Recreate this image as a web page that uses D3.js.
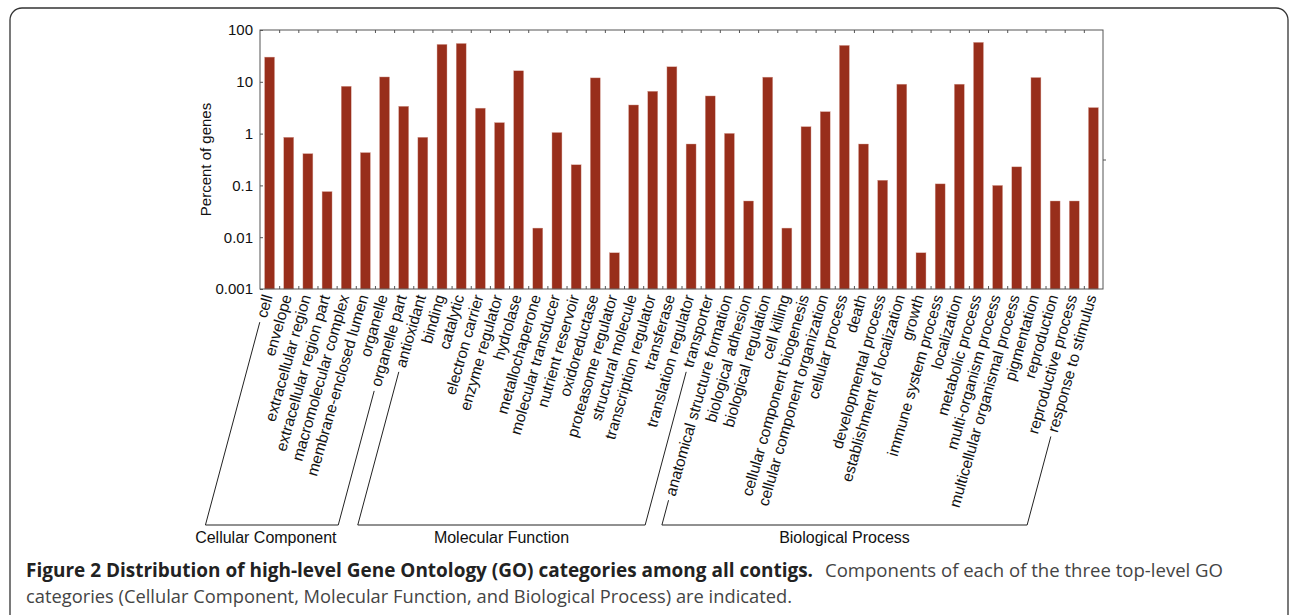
<!DOCTYPE html>
<html>
<head>
<meta charset="utf-8">
<script src="https://cdn.jsdelivr.net/npm/d3@7"></script>
<style>
    body { margin: 0; background: #fff; }
    svg text { font-family: "Liberation Sans", Arial, sans-serif; }
    svg text.caption { font-family: "Open Sans", "Noto Sans", sans-serif; }
</style>
</head>
<body>
<div id="chart"></div>
<script>
// GO categories, grouped by top-level branch
const ccCategories = ["cell", "envelope", "extracellular region", "extracellular region part",
    "macromolecular complex", "membrane-enclosed lumen", "organelle", "organelle part"];
const ccValues = [30, 0.85, 0.41, 0.076, 8.2, 0.43, 12.4, 3.37];

const mfCategories = ["antioxidant", "binding", "catalytic", "electron carrier", "enzyme regulator",
    "hydrolase", "metallochaperone", "molecular transducer", "nutrient reservoir", "oxidoreductase",
    "proteasome regulator", "structural molecule", "transcription regulator", "transferase",
    "translation regulator", "transporter"];
const mfValues = [0.85, 52.8, 55, 3.1, 1.63, 16.3, 0.015, 1.05, 0.25, 11.9, 0.005, 3.57, 6.57, 19.5, 0.63, 5.33];

const bpCategories = ["anatomical structure formation", "biological adhesion", "biological regulation",
    "cell killing", "cellular component biogenesis", "cellular component organization",
    "cellular process", "death", "developmental process", "establishment of localization",
    "growth", "immune system process", "localization", "metabolic process",
    "multi-organism process", "multicellular organismal process", "pigmentation",
    "reproduction", "reproductive process", "response to stimulus"];
const bpValues = [1.01, 0.05, 12.3, 0.015, 1.36, 2.65, 50.5, 0.63, 0.126, 9.0, 0.005, 0.107,
    9.0, 57.8, 0.1, 0.228, 12.1, 0.05, 0.05, 3.18];

const groupNames = ["Cellular Component", "Molecular Function", "Biological Process"];

const yTickValues = [0.001, 0.01, 0.1, 1, 10, 100];
const yTickLabels = ["0.001", "0.01", "0.1", "1", "10", "100"];

const yTitle = "Percent of genes";
const captionBold = "Figure 2 Distribution of high-level Gene Ontology (GO) categories among all contigs.";
const captionRest1 = "Components of each of the three top-level GO";
const captionRest2 = "categories (Cellular Component, Molecular Function, and Biological Process) are indicated.";

// build table
const groups = [ccCategories, mfCategories, bpCategories];
const groupValues = [ccValues, mfValues, bpValues];
const data = [];
groups.forEach((cats, g) => cats.forEach((c, i) => data.push({name: c, value: groupValues[g][i], group: g})));

const width = 1290, height = 615;
const plot = {left: 260, right: 1103, top: 30, bottom: 289};
const barColor = "#982e1b";
const axisColor = "#555";
const angle = -74;

const svg = d3.select("#chart").append("svg")
    .attr("width", width)
    .attr("height", height);

// outer figure frame
svg.append("rect")
    .attr("x", 10).attr("y", 8)
    .attr("width", 1278).attr("height", 660)
    .attr("rx", 12)
    .attr("fill", "none")
    .attr("stroke", "#333")
    .attr("stroke-width", 1.3);

const x = d3.scaleBand()
    .domain(data.map(d => d.name))
    .range([plot.left, plot.right])
    .paddingInner(0.48)
    .paddingOuter(0.24);

const y = d3.scaleLog()
    .domain([0.001, 100])
    .range([plot.bottom, plot.top]);

const edge = d3.scaleLinear().domain([0, data.length]).range([plot.left, plot.right]);

// bars
svg.append("g").selectAll("rect")
    .data(data)
    .enter()
    .append("rect")
    .attr("x", d => x(d.name))
    .attr("width", x.bandwidth())
    .attr("y", d => y(d.value))
    .attr("height", d => plot.bottom - y(d.value))
    .attr("fill", barColor)
    .attr("stroke", "#d9a89e")
    .attr("stroke-width", 0.4);

// top and bottom ticks between bars
const tickEdges = d3.range(1, data.length);
svg.append("g")
    .attr("transform", "translate(0," + plot.top + ")")
    .call(d3.axisTop(edge).tickValues(tickEdges).tickFormat("").tickSizeInner(-3).tickSizeOuter(0))
    .call(g => g.select(".domain").remove())
    .call(g => g.selectAll("line").attr("stroke", axisColor));
svg.append("g")
    .attr("transform", "translate(0," + plot.bottom + ")")
    .call(d3.axisBottom(edge).tickValues(tickEdges).tickFormat("").tickSizeInner(-3).tickSizeOuter(0))
    .call(g => g.select(".domain").remove())
    .call(g => g.selectAll("line").attr("stroke", axisColor));

// left axis
svg.append("g")
    .attr("transform", "translate(" + plot.left + ",0)")
    .call(d3.axisLeft(y).tickValues(yTickValues).tickFormat((d, i) => yTickLabels[i])
        .tickSizeInner(-3).tickSizeOuter(0).tickPadding(7))
    .call(g => g.select(".domain").remove())
    .call(g => g.selectAll("line").attr("stroke", axisColor))
    .call(g => g.selectAll("text")
        .attr("font-size", 15)
        .attr("fill", "#111"));

// plot box
svg.append("rect")
    .attr("x", plot.left).attr("y", plot.top)
    .attr("width", plot.right - plot.left)
    .attr("height", plot.bottom - plot.top)
    .attr("fill", "none")
    .attr("stroke", axisColor)
    .attr("stroke-width", 1);

// stray tick on the right side
svg.append("line")
    .attr("x1", plot.right).attr("x2", plot.right + 3)
    .attr("y1", 160).attr("y2", 160)
    .attr("stroke", axisColor);

// y title
svg.append("text")
    .attr("transform", "translate(211," + ((plot.top + plot.bottom) / 2) + ") rotate(-90)")
    .attr("text-anchor", "middle")
    .attr("font-size", 15)
    .attr("fill", "#111")
    .text(yTitle);

// category labels
const rad = angle * Math.PI / 180;
const dirX = -Math.cos(rad), dirY = -Math.sin(rad); // from label end toward label start
const labelY = 295;

const labels = svg.append("g").selectAll("text")
    .data(data)
    .enter()
    .append("text")
    .attr("transform", d => "translate(" + (x(d.name) + x.bandwidth() / 2 - 2) + "," + labelY + ") rotate(" + angle + ")")
    .attr("text-anchor", "end")
    .attr("dy", "0.35em")
    .attr("font-size", 15.5)
    .attr("fill", "#111")
    .text(d => d.name);

// group brackets
const bracketY = 525;
const bracketSlope = 1 / Math.tan(75 * Math.PI / 180);
const labelNodes = labels.nodes();

function labelStart(d) {
    const i = data.indexOf(d);
    const len = labelNodes[i].getComputedTextLength() + 5;
    const ax = x(d.name) + x.bandwidth() / 2 - 2;
    return [ax + dirX * len, labelY + dirY * len];
}

groups.forEach((cats, g) => {
    const members = data.filter(d => d.group === g);
    const p0 = labelStart(members[0]);
    const p1 = labelStart(members[members.length - 1]);
    const b0 = [p0[0] - (bracketY - p0[1]) * bracketSlope, bracketY];
    const b1 = [p1[0] - (bracketY - p1[1]) * bracketSlope, bracketY];
    svg.append("path")
        .attr("d", d3.line()([p0, b0, b1, p1]))
        .attr("fill", "none")
        .attr("stroke", "#222")
        .attr("stroke-width", 1);
    svg.append("text")
        .attr("x", (b0[0] + b1[0]) / 2 - (g === 0 ? 6 : 0))
        .attr("y", 543)
        .attr("text-anchor", "middle")
        .attr("font-size", 16)
        .attr("fill", "#111")
        .text(groupNames[g]);
});

// caption
svg.append("text")
    .attr("class", "caption")
    .attr("x", 26).attr("y", 577)
    .attr("font-size", 19)
    .attr("font-weight", "bold")
    .attr("fill", "#222")
    .attr("textLength", 787)
    .attr("lengthAdjust", "spacingAndGlyphs")
    .text(captionBold);
svg.append("text")
    .attr("class", "caption")
    .attr("x", 825).attr("y", 577)
    .attr("font-size", 19)
    .attr("fill", "#444")
    .attr("textLength", 398)
    .attr("lengthAdjust", "spacingAndGlyphs")
    .text(captionRest1);
svg.append("text")
    .attr("class", "caption")
    .attr("x", 26).attr("y", 603)
    .attr("font-size", 19)
    .attr("fill", "#444")
    .attr("textLength", 766)
    .attr("lengthAdjust", "spacingAndGlyphs")
    .text(captionRest2);
</script>
</body>
</html>
